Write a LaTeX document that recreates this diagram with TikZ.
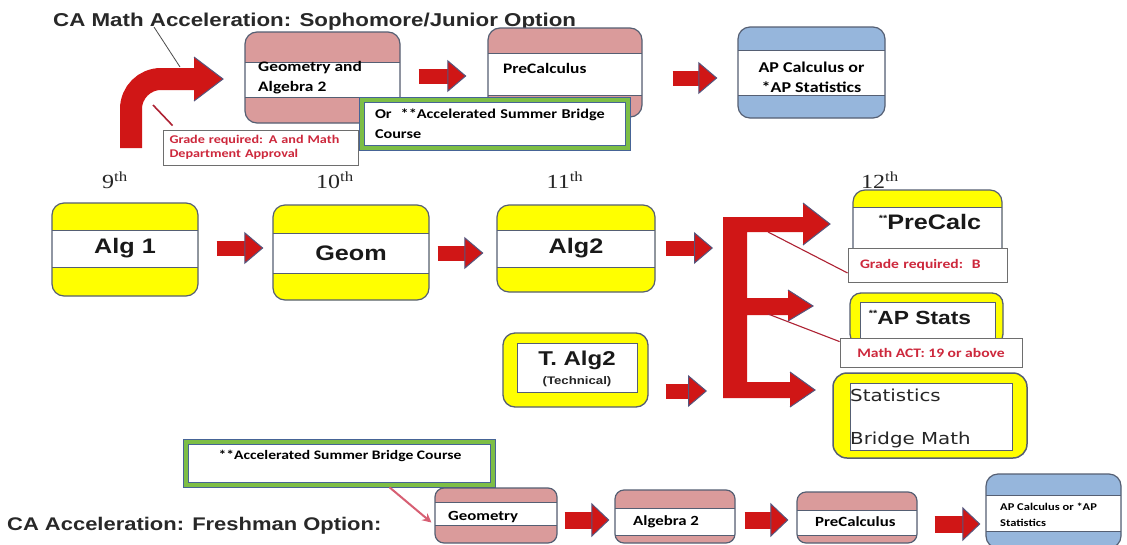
\documentclass[tikz,border=0pt]{standalone}
\usepackage{fontspec}
\usetikzlibrary{arrows.meta}
\newfontfamily\fA{Liberation Sans}[FakeStretch=1.2]
\newfontfamily\fC{Carlito}[FakeStretch=1.2]
\newfontfamily\fD{DejaVu Sans}[FakeStretch=1.2]
\newfontfamily\fS{Liberation Serif}[FakeStretch=1.2]
\definecolor{bord}{RGB}{85,95,115}
\definecolor{pinkb}{RGB}{218,155,155}
\definecolor{blueb}{RGB}{150,182,220}
\definecolor{yel}{RGB}{255,255,0}
\definecolor{arred}{RGB}{208,22,22}
\definecolor{labred}{RGB}{205,40,60}
\definecolor{grn}{RGB}{125,190,70}
\definecolor{gbord}{RGB}{70,100,150}
\definecolor{lblgray}{RGB}{110,110,110}
\definecolor{pinkarrow}{RGB}{215,95,115}
\definecolor{headslate}{RGB}{85,85,125}
\definecolor{titlegray}{RGB}{40,40,40}
\begin{document}
\begin{tikzpicture}[x=1pt,y=-1pt,
  wh/.style 2 args={minimum width=#1pt, minimum height=#2pt},
  bx/.style={draw=bord, line width=1.2pt, rounded corners=12pt, inner sep=0pt},
  band/.style n args={3}{bx, fill=#1, path picture={
    \fill[white, sharp corners] ([yshift=-#2]path picture bounding box.north west) rectangle ([yshift=#3]path picture bounding box.south east);
    \draw[bord, line width=0.7pt, sharp corners] ([yshift=-#2]path picture bounding box.north west) -- ([yshift=-#2]path picture bounding box.north east);
    \draw[bord, line width=0.7pt, sharp corners] ([yshift=#3]path picture bounding box.south west) -- ([yshift=#3]path picture bounding box.south east);}},
  ring/.style={draw=bord, line width=1.3pt, fill=yel, rounded corners=11pt, inner sep=0pt},
  innerbox/.style={draw=bord, line width=0.7pt, fill=white, inner sep=0pt},
  grnbox/.style={draw=gbord, double=grn, double distance=4pt, line width=0.6pt, fill=white, inner sep=0pt},
  lbl/.style={draw=lblgray, line width=0.8pt, fill=white, text=labred, inner xsep=12pt, inner ysep=0pt},
  tb/.style={font=\fC\bfseries\fontsize{14.5}{20}\selectfont, align=left, inner sep=0pt, text=black},
  big/.style={font=\fA\bfseries\fontsize{21}{24}\selectfont, inner sep=0pt, text=black!90},
  ord/.style={font=\fS\fontsize{20}{22}\selectfont, inner sep=0pt, text=black!85},
  blk/.style={arred, line width=15pt, -{Triangle[length=19pt,width=32pt,fill=arred,color=headslate,line width=1pt]}},
  blkB/.style={arred, line width=17pt, -{Triangle[length=18pt,width=34pt,fill=arred,color=headslate,line width=1pt]}},
  callout/.style={labred!85!black, line width=1.1pt}
]
\useasboundingbox (0,0) rectangle (1127,544);
\clip (0,0) rectangle (1127,544);
\fill[white] (0,0) rectangle (1127,544);

% ---------- top: sophomore/junior option ----------
\node[anchor=west, font=\fA\bfseries\fontsize{18.6}{22}\selectfont, text=titlegray, inner sep=0pt] (title) at (53,22) {CA Math Acceleration: Sophomore/Junior Option};

\node[band={pinkb}{30pt}{26pt}, wh={155}{91}] (ga) at (322.5,77.5) {};
\node[tb, anchor=west] (gaT) at (258,78) {Geometry and\\Algebra 2};
\node[band={pinkb}{25pt}{22pt}, wh={154}{89}] (pc) at (565,72.5) {};
\node[tb, anchor=west] (pcT) at (503,68) {PreCalculus};
\node[grnbox, wh={266}{48}, text width=240pt, inner xsep=13pt, align=left,
      font=\fC\bfseries\fontsize{13.5}{20}\selectfont] (gb) at (495,124) {Or\ \ **Accelerated Summer Bridge\\Course};
\node[band={blueb}{23pt}{23pt}, wh={147}{91}] (ap) at (811.5,72.5) {};
\node[tb, align=center, font=\fC\bfseries\fontsize{15}{20}\selectfont] (apT) at (811.5,77) {AP Calculus or\\*AP Statistics};

\draw[blk] ([xshift=18pt,yshift=1.5pt]ga.east) -- ([xshift=-21pt,yshift=-3.5pt]pc.west);
\draw[blk] ([xshift=30pt,yshift=-5.5pt]pc.east) -- ([xshift=-20pt,yshift=-5.5pt]ap.west);

% curved arrow
\draw[arred, line width=22pt, rounded corners=30pt] (131,148) -- (131,79) -- (196,79);
\fill[arred] (194,57) -- (223,79) -- (194,101) -- cycle;
\draw[headslate, line width=1pt] (194,57) -- (223,79) -- (194,101);
\coordinate (tA) at (154,27);
\coordinate (arrTop) at (180,67);
\draw[black!70, line width=0.8pt] (tA) -- (arrTop);

\node[lbl, wh={195}{35}, text width=182pt, inner xsep=6.5pt, align=left, font=\fC\bfseries\fontsize{11.8}{14}\selectfont] (lb0) at (260.5,147.5) {Grade required: A and Math\\Department Approval};
\coordinate (lb0p) at (153,105);
\draw[callout, line width=1.6pt] ([xshift=10pt,yshift=4pt]lb0.north west) -- (lb0p);

% ---------- grades ----------
\node[ord] (g9) at (115,180) {9\textsuperscript{th}};
\node[ord] (g10) at (335,180) {10\textsuperscript{th}};
\node[ord] (g11) at (565,180) {11\textsuperscript{th}};
\node[ord] (g12) at (880,180) {12\textsuperscript{th}};

% ---------- middle row ----------
\node[band={yel}{27pt}{28.5pt}, wh={146}{93}] (a1) at (125,249.5) {};
\node[big] (a1T) at (125,248) {Alg 1};
\node[band={yel}{28.6pt}{27pt}, wh={156}{95}] (ge) at (351,252.5) {};
\node[big] (geT) at (351,253) {Geom};
\node[band={yel}{25pt}{25pt}, wh={158}{87}] (a2) at (576,248.5) {};
\node[big] (a2T) at (576,248) {Alg2};

\draw[blk] ([xshift=18pt,yshift=1.5pt]a1.east) -- ([xshift=-9pt,yshift=4.5pt]ge.west);
\draw[blk] ([xshift=8pt,yshift=-0.5pt]ge.east) -- ([xshift=-13pt,yshift=-4.5pt]a2.west);

% E-shaped branching arrow
\fill[arred] (723,217) -- (803,217) -- (803,203) -- (830,224) -- (803,245) -- (803,232) -- (747,232)
  -- (747,298) -- (788,298) -- (788,290) -- (813,306) -- (788,321) -- (788,315) -- (747,315)
  -- (747,382) -- (790,382) -- (790,372) -- (815,390) -- (790,407) -- (790,398) -- (723,398) -- cycle;
\draw[headslate, line width=1pt] (803,203) -- (830,224) -- (803,245);
\draw[headslate, line width=1pt] (788,290) -- (813,306) -- (788,321);
\draw[headslate, line width=1pt] (790,372) -- (815,390) -- (790,407);
\coordinate (ein1) at (713,248);
\coordinate (ein2) at (707,391);
\coordinate (ec1) at (768,232);
\coordinate (ec2) at (768,314);

\draw[blk] ([xshift=10pt,yshift=0.5pt]a2.east) -- (ein1);

% T. Alg2
\node[ring, wh={145}{74}, rounded corners=12pt] (ta) at (575.5,370) {};
\node[innerbox, wh={120}{49}] (taI) at (577,367.5) {};
\node[big, font=\fA\bfseries\fontsize{20}{22}\selectfont] (taT) at (577,360) {T. Alg2};
\node[font=\fA\bfseries\fontsize{11}{12}\selectfont, inner sep=0pt, text=black!85] (taT2) at (577,382) {(Technical)};
\draw[blk] ([xshift=17pt,yshift=-21pt]ta.east) -- (ein2);

% ---------- 12th column ----------
\node[band={yel}{17pt}{6pt}, wh={149}{85}] (pc12) at (927.5,232.5) {};
\node[big] (pc12T) at (930,222) {\raisebox{8pt}{\fontsize{9}{9}\selectfont**}PreCalc};
\node[lbl, wh={159}{34}, text width=135pt, align=left, font=\fC\bfseries\fontsize{13}{15}\selectfont] (lb1) at (927.5,265) {Grade required:\ \ B};

\node[ring, wh={153}{52}] (as) at (926.5,319) {};
\node[innerbox, wh={135}{42}] (asI) at (927.5,323) {};
\node[big, font=\fA\bfseries\fontsize{19}{22}\selectfont] (asT) at (920,317) {\raisebox{8pt}{\fontsize{9}{9}\selectfont**}AP Stats};
\node[lbl, wh={182}{29}, align=center, font=\fC\bfseries\fontsize{13}{15}\selectfont] (lb2) at (931,352.5) {Math ACT: 19 or above};

\node[ring, wh={194}{85}, rounded corners=14pt, line width=1.5pt] (st) at (930,415.5) {};
\node[innerbox, wh={162}{67}] (stI) at (931,416.5) {};
\node[font=\fD\fontsize{16.5}{18}\selectfont, inner sep=0pt, anchor=west, text=black!85] (stT1) at (850,395) {Statistics};
\node[font=\fD\fontsize{16.5}{18}\selectfont, inner sep=0pt, anchor=west, text=black!85] (stT2) at (850,440) {Bridge Math};

\draw[callout] (ec1) -- ([yshift=-8pt]lb1.west);
\draw[callout] (ec2) -- ([yshift=-4pt]lb2.north west);

% ---------- bottom: freshman option ----------
\node[anchor=west, font=\fA\bfseries\fontsize{18.3}{22}\selectfont, text=titlegray, inner sep=0pt] (title2) at (7,526) {CA Acceleration: Freshman Option:};
\node[grnbox, wh={307}{43}] (gb2) at (339.5,463.5) {};
\node[font=\fC\bfseries\fontsize{13}{15}\selectfont, inner sep=0pt] (gb2T) at (340,456) {**Accelerated Summer Bridge Course};

\node[band={pinkb}{14pt}{18pt}, wh={122}{55}, rounded corners=9pt] (gB) at (496,515.5) {};
\node[tb, anchor=west, font=\fC\bfseries\fontsize{14}{16}\selectfont] (gBT) at (448,517) {Geometry};
\node[band={pinkb}{18pt}{8pt}, wh={120}{53}, rounded corners=9pt] (aB) at (675,516.5) {};
\node[tb, anchor=west, font=\fC\bfseries\fontsize{14}{16}\selectfont] (aBT) at (633,522) {Algebra 2};
\node[band={pinkb}{18pt}{8pt}, wh={120}{51}, rounded corners=9pt] (pB) at (857,517.5) {};
\node[tb, anchor=west, font=\fC\bfseries\fontsize{14}{16}\selectfont] (pBT) at (815,522) {PreCalculus};
\node[band={blueb}{21pt}{17pt}, wh={135}{74}] (bB) at (1053.5,511) {};
\node[tb, anchor=north west, font=\fC\bfseries\fontsize{10.4}{16}\selectfont] (bBT) at (1000,503) {AP Calculus or *AP\\Statistics};

\draw[pinkarrow, line width=2pt, -{Stealth[length=9pt,width=9pt]}] ([xshift=50pt,yshift=-2pt]gb2.south) -- ([xshift=-3pt,yshift=-7pt]gB.west);
\draw[blkB] ([xshift=7pt,yshift=-4.5pt]gB.east) -- ([xshift=-5pt,yshift=-3.5pt]aB.west);
\draw[blkB] ([xshift=9pt,yshift=-3.5pt]aB.east) -- ([xshift=-8pt,yshift=-2.5pt]pB.west);
\draw[blkB] ([xshift=17pt,yshift=-6.5pt]pB.east) -- ([xshift=-5pt,yshift=-13pt]bB.west);
\end{tikzpicture}
\end{document}
